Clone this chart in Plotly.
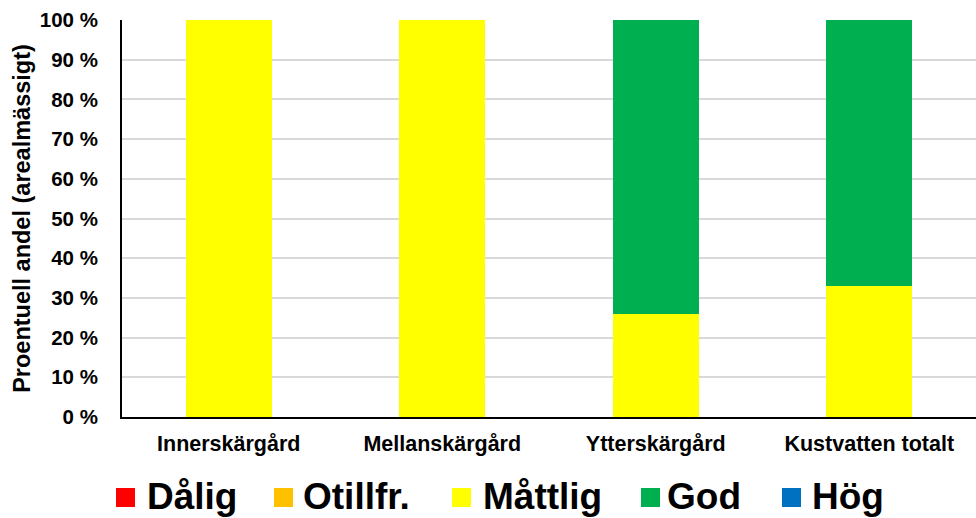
import plotly.graph_objects as go

# Share of coastal water area per ecological status class
categories = ["Innerskärgård", "Mellanskärgård", "Ytterskärgård", "Kustvatten totalt"]
status_names = ["Dålig", "Otillfr.", "Måttlig", "God", "Hög"]
status_colors = ["#ff0000", "#ffc000", "#ffff00", "#00b050", "#0070c0"]
dalig = [0, 0, 0, 0]
otillfr = [0, 0, 0, 0]
mattlig = [100, 100, 26, 33]
god = [0, 0, 74, 67]
hog = [0, 0, 0, 0]
y_ticks = list(range(0, 101, 10))
y_tick_labels = [f"{v} %" for v in y_ticks]

series = [dalig, otillfr, mattlig, god, hog]

W, H = 976, 518
L, R, T, B = 122, 0, 20, 101
PW, PH = W - L - R, H - T - B

FONT = "Liberation Sans, Arial, sans-serif"

fig = go.Figure()
for name, color, values in zip(status_names, status_colors, series):
    fig.add_trace(go.Bar(
        x=categories, y=values, name=name,
        marker=dict(color=color, line=dict(width=0)),
        showlegend=False,
    ))


def px_x(px):
    return (px - L) / PW


def px_y(py):
    return (H - B - py) / PH


# Legend row below the plot area: colour square followed by bold label
square_left = [116, 274, 452, 641, 782]
label_left = [147, 303, 483, 667, 812]
shapes = []
annotations = []
for name, color, sx, tx in zip(status_names, status_colors, square_left, label_left):
    shapes.append(dict(
        type="rect", xref="paper", yref="paper",
        x0=px_x(sx), x1=px_x(sx + 19), y0=px_y(507), y1=px_y(488),
        fillcolor=color, line=dict(width=0),
    ))
    annotations.append(dict(
        text=f"<b>{name}</b>", xref="paper", yref="paper",
        x=px_x(tx - 2), y=px_y(496), xanchor="left", yanchor="middle",
        showarrow=False, font=dict(family=FONT, size=37, color="#000000"),
    ))

fig.update_layout(
    width=W, height=H,
    margin=dict(l=L, r=R, t=T, b=B, pad=0),
    paper_bgcolor="#ffffff", plot_bgcolor="#ffffff",
    barmode="stack", bargap=0.597,
    font=dict(family=FONT, color="#000000"),
    shapes=shapes, annotations=annotations,
    showlegend=False,
)
fig.update_xaxes(
    showline=True, linecolor="#000000", linewidth=2,
    showgrid=False, ticks="",
    tickfont=dict(family=FONT, size=21.5, color="#000000"),
    tickprefix="<b>", ticksuffix="</b>",
    ticklabelstandoff=6,
)
fig.update_yaxes(
    range=[0, 100], tickvals=y_ticks,
    ticktext=[f"<b>{t}</b>" for t in y_tick_labels],
    showline=True, linecolor="#000000", linewidth=2,
    showgrid=True, gridcolor="#d9d9d9", gridwidth=1.5,
    zeroline=False, ticks="",
    tickfont=dict(family=FONT, size=20.5, color="#000000"),
    ticklabelstandoff=18,
    title=dict(text="<b>Proentuell andel (arealmässigt)</b>",
               font=dict(family=FONT, size=23.5, color="#000000"), standoff=3),
)

fig.write_html("out.html")
